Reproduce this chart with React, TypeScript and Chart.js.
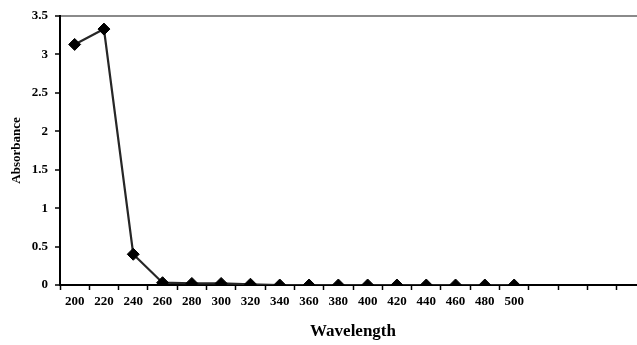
import React, { useEffect, useRef } from "react";
import { Chart, registerables } from "chart.js";

Chart.register(...registerables);

const wavelengths: string[] = [
  "200", "220", "240", "260", "280", "300", "320", "340", "360", "380",
  "400", "420", "440", "460", "480", "500", "", "", "", "",
];
const absorbance: (number | null)[] = [
  3.13, 3.33, 0.4, 0.03, 0.02, 0.02, 0.01, 0, 0, 0,
  0, 0, 0, 0, 0, 0, null, null, null, null,
];
const yTicks: number[] = [0, 0.5, 1, 1.5, 2, 2.5, 3, 3.5];

export default function App() {
  const ref = useRef<HTMLCanvasElement | null>(null);
  useEffect(() => {
    if (!ref.current) return;
    const font = "'Liberation Serif', 'Times New Roman', serif";
    const chart = new Chart(ref.current, {
      type: "line",
      data: {
        labels: wavelengths,
        datasets: [
          {
            data: absorbance,
            borderColor: "#262626",
            borderWidth: 2.2,
            pointStyle: "rectRot",
            pointRadius: 6,
            pointBackgroundColor: "#000",
            pointBorderColor: "#000",
            pointBorderWidth: 1,
            tension: 0,
            spanGaps: false,
          },
        ],
      },
      options: {
        animation: false,
        responsive: true,
        maintainAspectRatio: false,
        layout: { padding: { top: 16, right: 14, left: 0, bottom: 0 } },
        plugins: { legend: { display: false }, tooltip: { enabled: false } },
        scales: {
          x: {
            type: "category",
            offset: true,
            grid: {
              offset: true,
              drawOnChartArea: false,
              tickLength: 5,
              tickColor: "#000",
              tickWidth: 1.5,
            },
            border: { color: "#000", width: 2 },
            ticks: {
              color: "#000",
              font: { family: font, size: 13, weight: "bold" },
              padding: 4,
              maxRotation: 0,
              autoSkip: false,
            },
            title: {
              display: true,
              text: "Wavelength",
              color: "#000",
              font: { family: font, size: 17, weight: "bold" },
              padding: { top: 0, bottom: 3 },
            },
            afterFit: (s: any) => {
              s.height = 60;
            },
          },
          y: {
            min: 0,
            max: 3.5,
            afterBuildTicks: (s: any) => {
              s.ticks = yTicks.map((v) => ({ value: v }));
            },
            grid: {
              color: (c: any) => (c.tick && c.tick.value === 3.5 ? "#8a8a8a" : "rgba(0,0,0,0)"),
              lineWidth: 2,
              tickLength: 5,
              tickColor: "#000",
              tickWidth: 1.5,
            },
            border: { color: "#000", width: 2 },
            ticks: {
              color: "#000",
              font: { family: font, size: 13, weight: "bold" },
              padding: 7,
              callback: (v: any) => String(v),
            },
            title: {
              display: true,
              text: "Absorbance",
              color: "#000",
              font: { family: font, size: 13, weight: "bold" },
              padding: { top: 9, bottom: 0 },
            },
            afterFit: (s: any) => {
              s.width = 60;
            },
          },
        },
      },
    });
    return () => chart.destroy();
  }, []);
  return (
    <div style={{ position: "fixed", left: 0, top: 0, width: 660, height: 345, background: "#fff" }}>
      <canvas ref={ref} />
    </div>
  );
}
